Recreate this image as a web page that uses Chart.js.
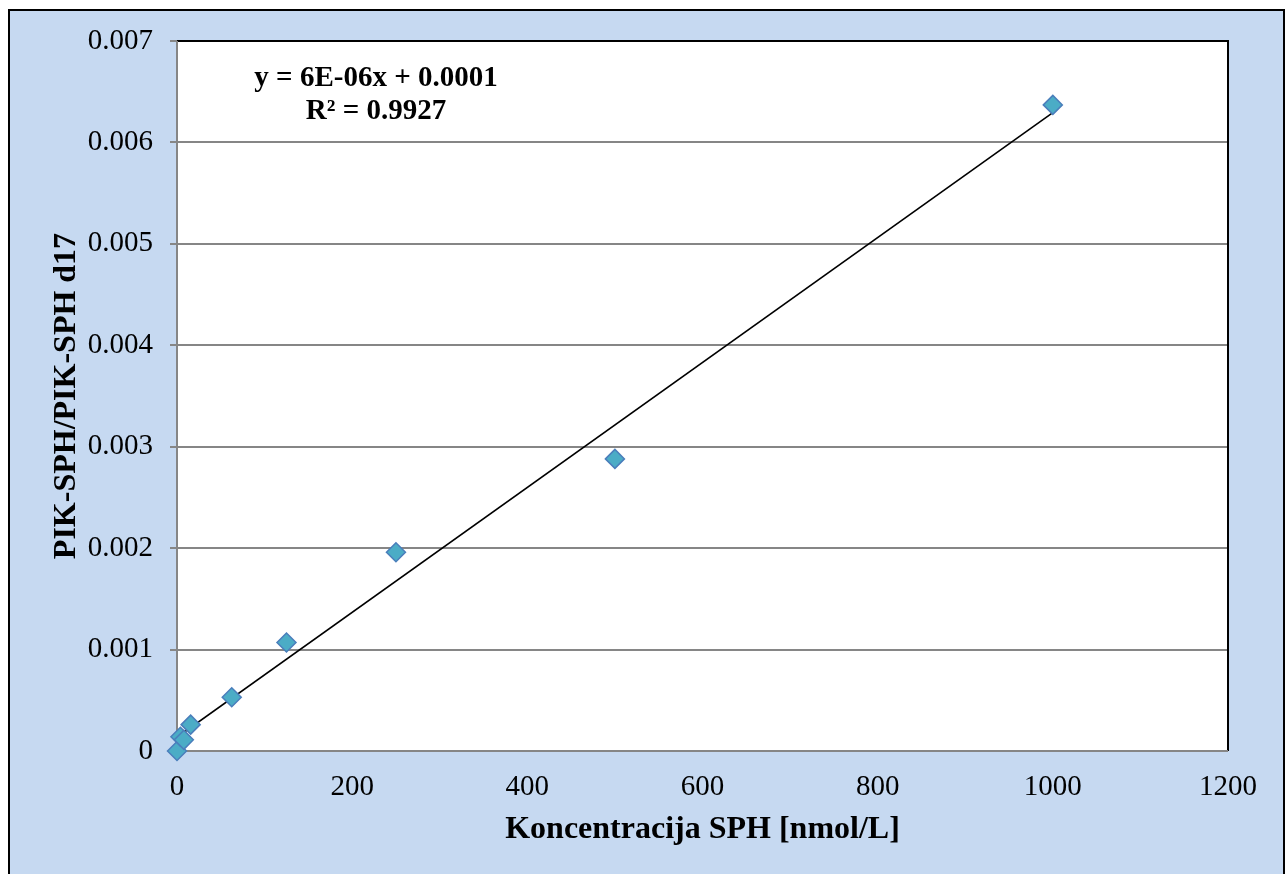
<!DOCTYPE html>
<html>
<head>
<meta charset="utf-8">
<script src="https://cdn.jsdelivr.net/npm/chart.js@4/dist/chart.umd.min.js"></script>
<style>
  html, body { margin: 0; padding: 0; background: #ffffff; }
  #wrap { width: 1286px; height: 874px; position: relative; }
</style>
</head>
<body>
<div id="wrap"><canvas id="c" width="1286" height="874"></canvas></div>
<script>
// Calibration points: SPH concentration vs. peak-area ratio SPH / SPH d17
const concentrations = [0, 3.9, 7.8, 15.6, 62.5, 125, 250, 500, 1000];
const peakRatios = [0, 0.00014, 0.00011, 0.00026, 0.00053, 0.00107, 0.00196, 0.00288, 0.00637];
const xTickLabels = ['0', '200', '400', '600', '800', '1000', '1200'];
const yTickLabels = ['0', '0.001', '0.002', '0.003', '0.004', '0.005', '0.006', '0.007'];
const equationLines = ['y = 6E-06x + 0.0001', 'R\u00B2 = 0.9927'];

// Least-squares line through the calibration points
function linearFit(xs, ys) {
  const n = xs.length;
  const mx = xs.reduce((a, b) => a + b, 0) / n;
  const my = ys.reduce((a, b) => a + b, 0) / n;
  let sxy = 0, sxx = 0;
  for (let i = 0; i < n; i++) {
    sxy += (xs[i] - mx) * (ys[i] - my);
    sxx += (xs[i] - mx) * (xs[i] - mx);
  }
  const slope = sxy / sxx;
  return { slope, intercept: my - slope * mx };
}
const fit = linearFit(concentrations, peakRatios);
const xMin = Math.min(...concentrations), xMax = Math.max(...concentrations);
const trendPoints = [
  { x: xMin, y: fit.intercept + fit.slope * xMin },
  { x: xMax, y: fit.intercept + fit.slope * xMax }
];

const serif = '"Liberation Serif", "Times New Roman", serif';

// Blue panel, frame and plot-area border
const panelPlugin = {
  id: 'panel',
  beforeDraw(chart) {
    const ctx = chart.ctx;
    const a = chart.chartArea;
    ctx.save();
    ctx.fillStyle = '#ffffff';
    ctx.fillRect(0, 0, chart.width, chart.height);
    ctx.fillStyle = '#c6d9f1';
    ctx.fillRect(9, 10, 1275, 870);
    ctx.strokeStyle = '#000000';
    ctx.lineWidth = 2;
    ctx.strokeRect(9, 10, 1275, 880);
    ctx.fillStyle = '#ffffff';
    ctx.fillRect(a.left, a.top, a.right - a.left, a.bottom - a.top);
    ctx.restore();
  },
  beforeDatasetsDraw(chart) {
    const ctx = chart.ctx;
    const a = chart.chartArea;
    ctx.save();
    ctx.strokeStyle = '#000000';
    ctx.lineWidth = 2;
    ctx.beginPath();
    ctx.moveTo(a.left, a.top);
    ctx.lineTo(a.right, a.top);
    ctx.lineTo(a.right, a.bottom);
    ctx.stroke();
    ctx.strokeStyle = '#868686';
    ctx.lineWidth = 2;
    ctx.beginPath();
    ctx.moveTo(a.left, a.top);
    ctx.lineTo(a.left, a.bottom);
    ctx.lineTo(a.right, a.bottom);
    ctx.stroke();
    ctx.restore();
  },
  afterDraw(chart) {
    const ctx = chart.ctx;
    const a = chart.chartArea;
    ctx.save();
    // Trendline equation
    ctx.fillStyle = '#000000';
    ctx.font = 'bold 29px ' + serif;
    ctx.textAlign = 'center';
    ctx.textBaseline = 'middle';
    const cx = a.left + 199;
    ctx.fillText(equationLines[0], cx, a.top + 38);
    ctx.fillText(equationLines[1], cx, a.top + 71);
    ctx.restore();
  }
};

new Chart(document.getElementById('c'), {
  type: 'scatter',
  data: {
    datasets: [
      {
        label: 'Linear fit',
        type: 'line',
        data: trendPoints,
        borderColor: '#000000',
        borderWidth: 1.6,
        pointRadius: 0,
        fill: false,
        order: 2
      },
      {
        label: 'SPH',
        data: concentrations.map((x, i) => ({ x, y: peakRatios[i] })),
        pointStyle: 'rectRot',
        pointRadius: 9.5,
        pointBackgroundColor: '#4bacc6',
        pointBorderColor: '#4a7ebb',
        pointBorderWidth: 1.5,
        clip: false,
        order: 1
      }
    ]
  },
  options: {
    responsive: false,
    animation: false,
    layout: { padding: { left: 0, top: 41, right: 58, bottom: 0 } },
    plugins: {
      legend: { display: false },
      tooltip: { enabled: false }
    },
    scales: {
      x: {
        type: 'linear',
        min: 0,
        max: 1200,
        ticks: {
          stepSize: 200,
          padding: 10,
          color: '#000000',
          font: { family: serif, size: 29 },
          callback: (v, i) => xTickLabels[i]
        },
        grid: { display: false, drawTicks: true, tickLength: 9, tickColor: '#868686', tickWidth: 2 },
        border: { display: false },
        title: {
          display: true,
          text: 'Koncentracija SPH [nmol/L]',
          color: '#000000',
          font: { family: serif, size: 32, weight: 'bold' },
          padding: { top: 0, bottom: 25 }
        },
        afterFit(scale) { scale.height = 123; }
      },
      y: {
        type: 'linear',
        min: 0,
        max: 0.007,
        ticks: {
          stepSize: 0.001,
          padding: 17,
          color: '#000000',
          font: { family: serif, size: 29 },
          callback: (v, i) => yTickLabels[i]
        },
        grid: { color: '#868686', lineWidth: 2, drawTicks: true, tickLength: 7, tickColor: '#868686' },
        border: { display: false },
        title: {
          display: true,
          text: 'PIK-SPH/PIK-SPH d17',
          color: '#000000',
          font: { family: serif, size: 32, weight: 'bold' },
          padding: { top: 48, bottom: 0 }
        },
        afterFit(scale) { scale.width = 177; }
      }
    }
  },
  plugins: [panelPlugin]
});
</script>
</body>
</html>
